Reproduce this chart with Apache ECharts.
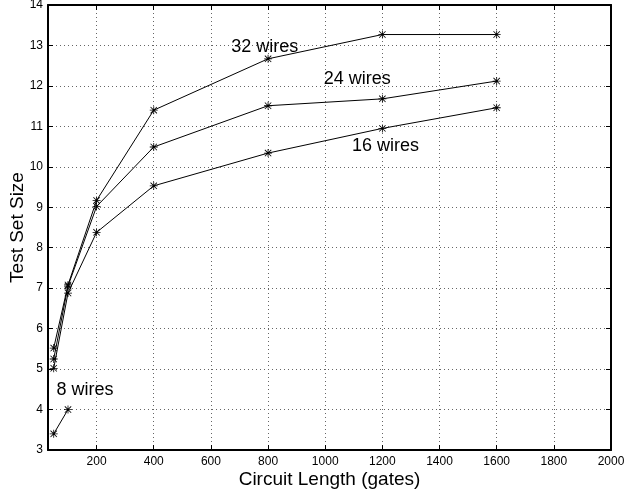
<!DOCTYPE html>
<html>
<head>
<meta charset="utf-8">
<style>
  html, body { margin: 0; padding: 0; background: #fff; }
  #chart { width: 624px; height: 494px; }
</style>
<script src="https://cdn.jsdelivr.net/npm/echarts@6.0.0/dist/echarts.min.js"></script>
</head>
<body>
<div id="chart"></div>
<script>
var circuitLengths = [50, 100, 200, 400, 800, 1200, 1600];
var wires32 = [5.52, 7.08, 9.17, 11.40, 12.67, 13.27, 13.27];
var wires24 = [5.25, 7.05, 9.02, 10.49, 11.51, 11.68, 12.12];
var wires16 = [5.02, 6.88, 8.38, 9.53, 10.34, 10.95, 11.46];
var lengths8 = [50, 100];
var wires8 = [3.40, 4.00];

var xTicks = [200, 400, 600, 800, 1000, 1200, 1400, 1600, 1800, 2000];
var labelNames = ['32 wires', '24 wires', '16 wires', '8 wires'];
var labelX = [790, 1114, 1213, 161];
var labelY = [12.94, 12.17, 10.49, 4.46];

// matlab style asterisk marker
var asterisk = 'path://M9,0L11,0L11,20L9,20Z M0,9L20,9L20,11L0,11Z ' +
  'M1.3,2.7L2.7,1.3L18.7,17.3L17.3,18.7Z M17.3,1.3L18.7,2.7L2.7,18.7L1.3,17.3Z';

function pairs(xs, ys) {
  return ys.map(function(v, i) { return [xs[i], v]; });
}

function lineSeries(name, xs, ys) {
  return {
    name: name,
    type: 'line',
    data: pairs(xs, ys),
    symbol: asterisk,
    symbolSize: 8,
    showAllSymbol: true,
    itemStyle: { color: '#000' },
    lineStyle: { color: '#000', width: 1 },
    animation: false
  };
}

var font = 'Liberation Sans, Arial, Helvetica, sans-serif';
var axisLine = { show: true, lineStyle: { color: '#000', width: 2 } };
var gridLine = { show: true, lineStyle: { color: '#666', width: 1, type: [1, 3] } };

var chart = echarts.init(document.getElementById('chart'), null, { renderer: 'canvas' });
chart.setOption({
  animation: false,
  backgroundColor: '#fff',
  textStyle: { fontFamily: font },
  grid: { left: 48, right: 13, top: 5, bottom: 44, containLabel: false, outerBoundsMode: 'none' },
  xAxis: [{
    type: 'value',
    min: 30,
    max: 2000,
    name: 'Circuit Length (gates)',
    nameLocation: 'middle',
    nameGap: 20,
    nameMoveOverlap: false,
    nameTextStyle: { color: '#000', fontSize: 19, fontFamily: font },
    axisLine: axisLine,
    axisTick: { show: true, inside: true, length: 5, customValues: xTicks, lineStyle: { color: '#000' } },
    axisLabel: { color: '#000', fontSize: 12, margin: 6, customValues: xTicks, fontFamily: font,
      formatter: function(v) { return String(v); } },
    splitLine: gridLine
  }, {
    type: 'value',
    position: 'top',
    min: 30,
    max: 2000,
    axisLine: axisLine,
    axisTick: { show: true, inside: true, length: 5, customValues: xTicks, lineStyle: { color: '#000' } },
    axisLabel: { show: false },
    splitLine: { show: false }
  }],
  yAxis: [{
    type: 'value',
    min: 3,
    max: 14,
    interval: 1,
    name: 'Test Set Size',
    nameLocation: 'middle',
    nameGap: 21,
    nameMoveOverlap: false,
    nameTextStyle: { color: '#000', fontSize: 19, fontFamily: font },
    axisLine: axisLine,
    axisTick: { show: true, inside: true, length: 5, lineStyle: { color: '#000' } },
    axisLabel: { color: '#000', fontSize: 12, margin: 5, fontFamily: font },
    splitLine: gridLine
  }, {
    type: 'value',
    position: 'right',
    min: 3,
    max: 14,
    interval: 1,
    axisLine: axisLine,
    axisTick: { show: true, inside: true, length: 5, lineStyle: { color: '#000' } },
    axisLabel: { show: false },
    splitLine: { show: false }
  }],
  series: [
    lineSeries('32 wires', circuitLengths, wires32),
    lineSeries('24 wires', circuitLengths, wires24),
    lineSeries('16 wires', circuitLengths, wires16),
    lineSeries('8 wires', lengths8, wires8),
    {
      type: 'scatter',
      symbolSize: 1,
      silent: true,
      itemStyle: { opacity: 0 },
      data: labelNames.map(function(n, i) { return { name: n, value: [labelX[i], labelY[i]] }; }),
      label: {
        show: true,
        position: [0, 0],
        align: 'center',
        verticalAlign: 'middle',
        formatter: '{b}',
        color: '#000',
        opacity: 1,
        fontSize: 18,
        fontFamily: font
      }
    }
  ]
});
</script>
</body>
</html>
